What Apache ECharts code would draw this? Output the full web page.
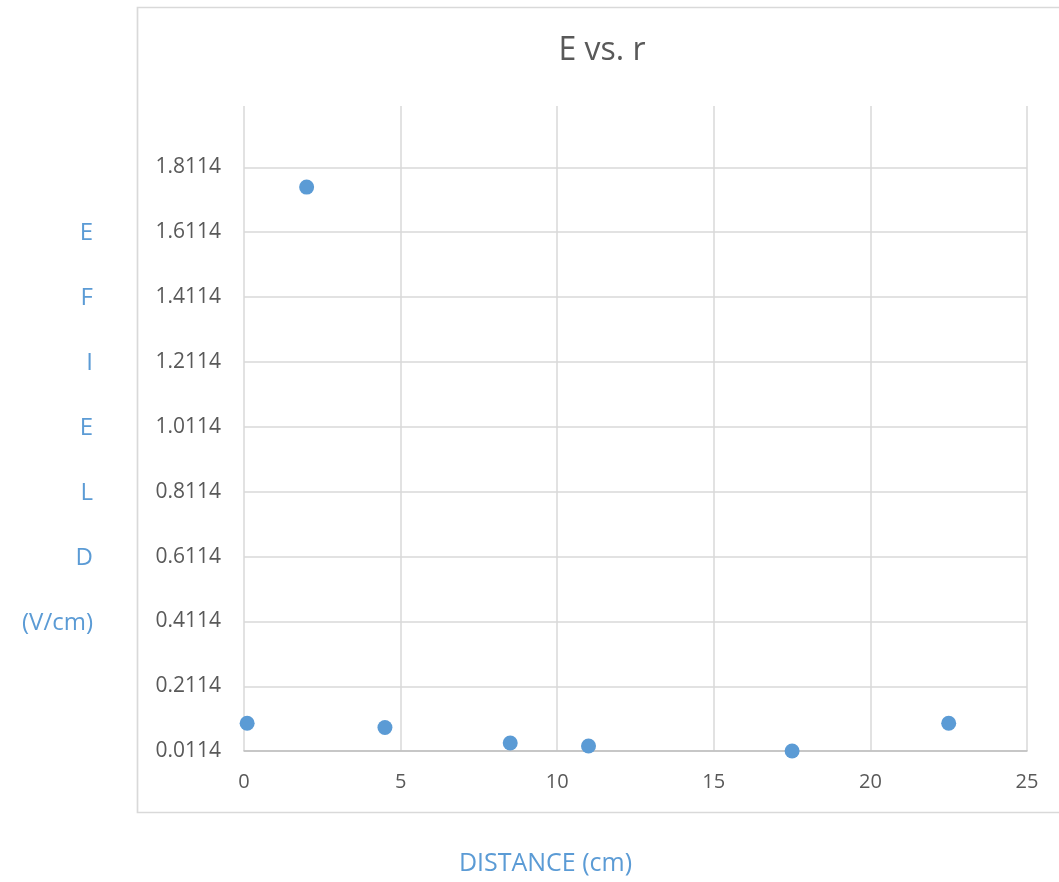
<!DOCTYPE html>
<html>
<head>
<meta charset="utf-8">
<script src="https://cdn.jsdelivr.net/npm/echarts@6/dist/echarts.min.js"></script>
<style>
html,body{margin:0;padding:0;background:#fff;}
#chart{width:1059px;height:882px;}
</style>
</head>
<body>
<div id="chart"></div>
<script>
const distances = [0.1, 2, 4.5, 8.5, 11, 17.5, 22.5];
const fields = [0.097, 1.75, 0.084, 0.036, 0.027, 0.0114, 0.097];
const yTickLabels = ['0.0114','0.2114','0.4114','0.6114','0.8114','1.0114','1.2114','1.4114','1.6114','1.8114'];
const xTickLabels = ['0','5','10','15','20','25'];
const titleText = 'E vs. r';
const xName = 'DISTANCE (cm)';
const yName = 'E\n\nF\n\nI\n\nE\n\nL\n\nD\n\n(V/cm)';

const font = '"Open Sans", "Liberation Sans", sans-serif';
const chart = echarts.init(document.getElementById('chart'));
chart.setOption({
  backgroundColor: '#fff',
  animation: false,
  title: {
    text: titleText, left: 602, top: 35, textAlign: 'center',
    textStyle: {fontFamily: font, fontSize: 32, fontWeight: 'normal', color: '#595959'},
    padding: 0
  },
  graphic: [{
    type: 'rect', silent: true,
    shape: {x: 137.5, y: 7.5, width: 940, height: 805},
    style: {fill: 'none', stroke: '#d9d9d9', lineWidth: 1.7}
  }],
  grid: {left: 244, right: 32, top: 106, bottom: 131, containLabel: false},
  xAxis: {
    type: 'value', min: 0, max: 25, interval: 5,
    name: xName, nameLocation: 'middle', nameGap: 100,
    nameTextStyle: {fontFamily: font, fontSize: 25, color: '#5B9BD5', padding: [0, 180, 0, 0]},
    axisLine: {show: true, lineStyle: {color: '#bfbfbf', width: 1.5}},
    axisTick: {show: false},
    axisLabel: {
      margin: 21, fontFamily: font, fontSize: 20, color: '#595959',
      formatter: v => xTickLabels.find(t => Math.abs(Number(t) - v) < 0.01) || ''
    },
    splitLine: {show: true, lineStyle: {color: '#d9d9d9', width: 1.5}}
  },
  yAxis: {
    type: 'value', min: 0.0114, max: 2.0, interval: 0.2,
    name: yName, nameLocation: 'middle', nameGap: 151, nameRotate: 0,
    nameTextStyle: {fontFamily: font, fontSize: 24, color: '#5B9BD5', align: 'right', lineHeight: 32.5, padding: [0, 0, 4, 0]},
    axisLine: {show: false},
    axisTick: {show: false},
    axisLabel: {
      margin: 23, fontFamily: font, fontSize: 21, color: '#595959', showMaxLabel: false,
      formatter: v => yTickLabels.find(t => Math.abs(Number(t) - v) < 0.002) || ''
    },
    splitLine: {show: true, showMaxLine: false, lineStyle: {color: '#d9d9d9', width: 1.5}}
  },
  series: [{
    type: 'scatter',
    data: distances.map((d, i) => [d, fields[i]]),
    symbolSize: 15,
    itemStyle: {color: '#5B9BD5', opacity: 1}
  }]
});
</script>
</body>
</html>
